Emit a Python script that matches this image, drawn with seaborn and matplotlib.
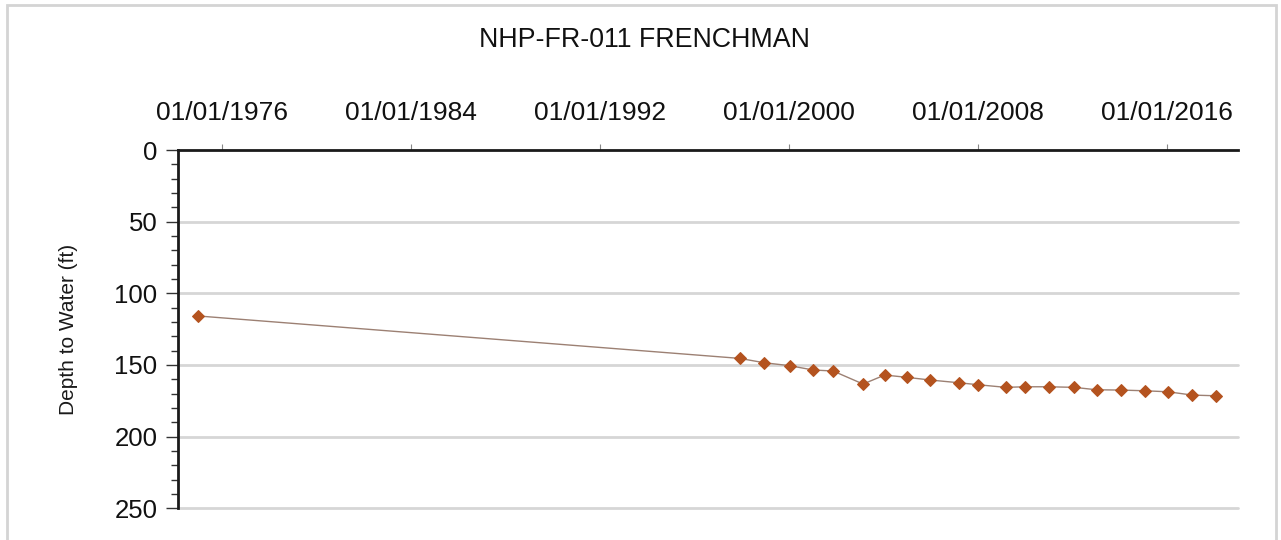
import pandas as pd
import seaborn as sns
import matplotlib.pyplot as plt
import matplotlib.dates as mdates
from matplotlib.ticker import MultipleLocator
from matplotlib.patches import Rectangle

dates = ['1975-01-01', '1997-12-05', '1998-12-15', '2000-01-18', '2001-01-15',
         '2001-11-18', '2003-02-25', '2004-01-25', '2004-12-28', '2006-01-01',
         '2007-03-18', '2008-01-12', '2009-03-08', '2010-01-08', '2011-01-05',
         '2012-01-30', '2013-01-15', '2014-01-25', '2015-02-01', '2016-01-22',
         '2017-02-01', '2018-02-10']
depth = [115.8, 145.4, 148.4, 150.5, 153.5, 154.2, 163.3, 157.0, 158.6, 160.5,
         162.4, 163.8, 165.6, 165.2, 165.2, 165.6, 167.3, 167.5, 168.0, 168.7,
         171.0, 171.5]
y_ticks = [0, 50, 100, 150, 200, 250]

df = pd.DataFrame({'date': pd.to_datetime(dates), 'depth': depth})

sns.set_theme(style='white')
plt.rcParams['font.family'] = ['Liberation Sans', 'DejaVu Sans']

fig = plt.figure(figsize=(12.81, 5.4), dpi=100)
ax = fig.add_axes([0.1392, 0.0587, 0.9664 - 0.1392, 0.7222 - 0.0587])

# light frame round the whole picture
fig.patches.append(Rectangle((7 / 1281, -0.05), (1276 - 7) / 1281, 1 - 5 / 540 + 0.05,
                             transform=fig.transFigure, fill=False,
                             edgecolor='#d4d4d4', linewidth=2, zorder=0))

for yv in y_ticks[1:]:
    ax.axhline(yv, color='#d6d6d6', linewidth=2, zorder=0, clip_on=False)

sns.lineplot(data=df, x='date', y='depth', ax=ax, color='#9c8073', linewidth=1,
             marker='D', markersize=6.5, markerfacecolor='#b4531f',
             markeredgecolor='#b4531f', zorder=3)

ax.set_ylim(250, 0)
ax.set_xlim(pd.Timestamp('1974-03-01'), pd.Timestamp('2019-01-08'))
ax.set_yticks(y_ticks)
ax.yaxis.set_minor_locator(MultipleLocator(10))

ax.xaxis.tick_top()
ax.xaxis.set_major_locator(mdates.YearLocator(8))
ax.xaxis.set_major_formatter(mdates.DateFormatter('%m/%d/%Y'))

for side in ['right', 'bottom']:
    ax.spines[side].set_visible(False)
for side in ['left', 'top']:
    ax.spines[side].set_color('#1a1a1a')
    ax.spines[side].set_linewidth(2)

ax.tick_params(axis='x', which='major', direction='out', length=4, width=0.8,
               color='#888888', labelsize=19, labelcolor='#111111', pad=14,
               top=True, bottom=False)
ax.tick_params(axis='y', which='major', direction='out', length=9, width=1,
               color='#333333', labelsize=18.5, labelcolor='#111111', pad=6, left=True)
ax.tick_params(axis='y', which='minor', direction='out', length=5, width=1,
               color='#333333', left=True)

ax.set_xlabel('')
ax.set_ylabel('Depth to Water (ft)', fontsize=15, color='#1a1a1a')
ax.yaxis.set_label_coords(-0.095, 0.5)

fig.text(644 / 1281, 1 - 40 / 540, 'NHP-FR-011 FRENCHMAN', ha='center', va='center',
         fontsize=19.3, color='#111111')

plt.savefig('out.png', dpi=100)
